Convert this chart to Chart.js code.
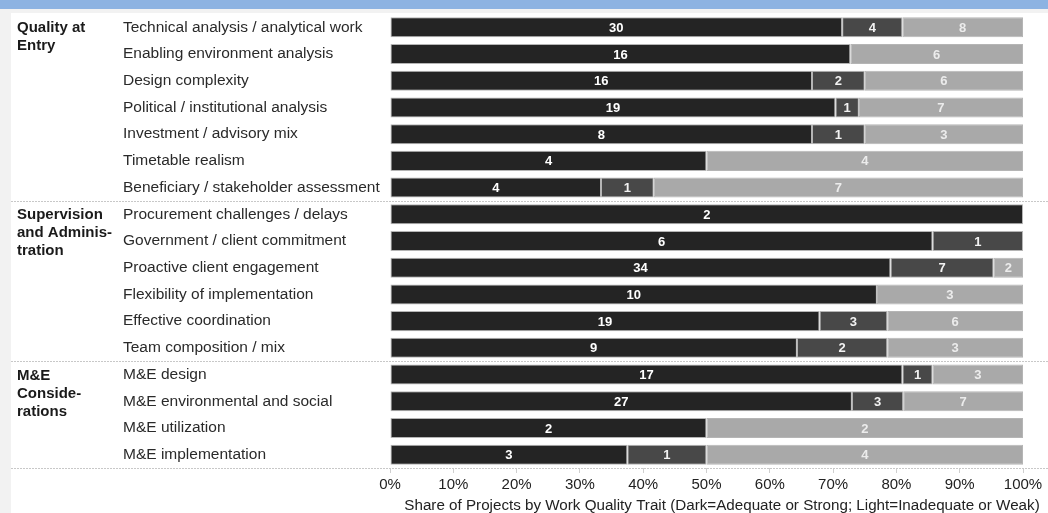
<!DOCTYPE html>
<html lang="en">

<head>
    <meta charset="utf-8">
    <title>Work quality traits</title>
    <script src="https://cdn.jsdelivr.net/npm/chart.js"></script>
    <style>
        body { margin: 0; background: #f2f2f2; }
        #band { position: absolute; left: 0; top: 0; width: 1048px; height: 9px; background: #8db3e2; }
        #panel { position: absolute; left: 11px; top: 13px; width: 1037px; height: 500px; background: #fff; }
        #chart { position: absolute; left: 0; top: 0; }
    </style>
</head>

<body>
    <div id="band"></div>
    <div id="panel"></div>
    <canvas id="chart" width="1048" height="513"></canvas>

    <script>
        const categories = [
            "Technical analysis / analytical work",
            "Enabling environment analysis",
            "Design complexity",
            "Political / institutional analysis",
            "Investment / advisory mix",
            "Timetable realism",
            "Beneficiary / stakeholder assessment",
            "Procurement challenges / delays",
            "Government / client commitment",
            "Proactive client engagement",
            "Flexibility of implementation",
            "Effective coordination",
            "Team composition / mix",
            "M&E design",
            "M&E environmental and social",
            "M&E utilization",
            "M&E implementation"
        ];
        // project counts per trait (dark, mid, light)
        const strong = [30, 16, 16, 19, 8, 4, 4, 2, 6, 34, 10, 19, 9, 17, 27, 2, 3];
        const mixed = [4, 0, 2, 1, 1, 0, 1, 0, 1, 7, 0, 3, 2, 1, 3, 0, 1];
        const weak = [8, 6, 6, 7, 3, 4, 7, 0, 0, 2, 3, 6, 3, 3, 7, 2, 4];

        const groups = [
            { first: 0, last: 6, lines: ["Quality at", "Entry"] },
            { first: 7, last: 12, lines: ["Supervision", "and Adminis-", "tration"] },
            { first: 13, last: 16, lines: ["M&E", "Conside-", "rations"] }
        ];
        const xTicks = [0, 10, 20, 30, 40, 50, 60, 70, 80, 90, 100];
        const xTitle = "Share of Projects by Work Quality Trait (Dark=Adequate or Strong; Light=Inadequate or Weak)";

        // chart js has no 100% stacking, so turn counts into shares
        const totals = categories.map((c, i) => strong[i] + mixed[i] + weak[i]);
        const share = arr => arr.map((v, i) => v / totals[i] * 100);

        const font = "'Liberation Sans', Arial, sans-serif";

        const data = {
            labels: categories,
            datasets: [
                { label: 'Adequate or Strong', data: share(strong), counts: strong, backgroundColor: '#242424', textColor: '#ffffff' },
                { label: 'Mixed', data: share(mixed), counts: mixed, backgroundColor: '#484848', textColor: '#f2f2f2' },
                { label: 'Inadequate or Weak', data: share(weak), counts: weak, backgroundColor: '#a9a9a9', textColor: '#ececec' }
            ].map(d => Object.assign(d, {
                borderColor: 'rgba(150,150,150,0.7)',
                borderWidth: 1,
                borderSkipped: false,
                barPercentage: 0.75,
                categoryPercentage: 1
            }))
        };

        // numbers inside the segments, group names, dotted separators, axis title
        const extras = {
            id: 'extras',
            afterDatasetsDraw(chart) {
                const ctx = chart.ctx;
                ctx.save();
                ctx.font = 'bold 13px ' + font;
                ctx.textAlign = 'center';
                ctx.textBaseline = 'middle';
                chart.data.datasets.forEach((ds, di) => {
                    chart.getDatasetMeta(di).data.forEach((bar, i) => {
                        if (!ds.counts[i]) return;
                        ctx.fillStyle = ds.textColor;
                        ctx.fillText(ds.counts[i], (bar.base + bar.x) / 2, bar.y + 1);
                    });
                });

                const y = chart.scales.y;
                const area = chart.chartArea;
                ctx.strokeStyle = '#c8c8c8';
                ctx.lineWidth = 1;
                ctx.setLineDash([2, 1]);
                const seps = groups.slice(0, -1).map(g => (y.getPixelForValue(g.last) + y.getPixelForValue(g.last + 1)) / 2);
                seps.push(area.bottom);
                seps.forEach(py => {
                    ctx.beginPath();
                    ctx.moveTo(11, Math.round(py) + 0.5);
                    ctx.lineTo(1048, Math.round(py) + 0.5);
                    ctx.stroke();
                });

                ctx.font = 'bold 15px ' + font;
                ctx.textAlign = 'left';
                ctx.fillStyle = '#1a1a1a';
                groups.forEach(g => {
                    const top = y.getPixelForValue(g.first) + 1;
                    g.lines.forEach((line, k) => ctx.fillText(line, 17, top + k * 18));
                });

                ctx.font = '15.2px ' + font;
                ctx.textAlign = 'center';
                ctx.fillStyle = '#222';
                ctx.fillText(xTitle, 722, 506);
                ctx.restore();
            }
        };

        const options = {
            indexAxis: 'y',
            responsive: false,
            animation: false,
            layout: { padding: { left: 123, right: 25, top: 14, bottom: 0 } },
            plugins: {
                legend: { display: false },
                tooltip: { enabled: false }
            },
            scales: {
                x: {
                    stacked: true,
                    min: 0,
                    max: 100,
                    afterBuildTicks: axis => { axis.ticks = xTicks.map(v => ({ value: v })); },
                    afterFit: axis => { axis.height = 45; },
                    grid: { drawOnChartArea: false, tickLength: 5, color: '#cfcfcf' },
                    border: { display: false },
                    ticks: {
                        padding: 3,
                        color: '#222',
                        font: { family: font, size: 15 },
                        callback: v => v + '%'
                    }
                },
                y: {
                    stacked: true,
                    afterFit: axis => { axis.width = 267; },
                    grid: { display: false },
                    border: { display: false },
                    ticks: {
                        crossAlign: 'far',
                        color: '#2a2a2a',
                        font: { family: font, size: 15.5 }
                    }
                }
            }
        };

        new Chart(document.getElementById('chart').getContext('2d'), {
            type: 'bar', data: data, options: options, plugins: [extras]
        });
    </script>
</body>

</html>
